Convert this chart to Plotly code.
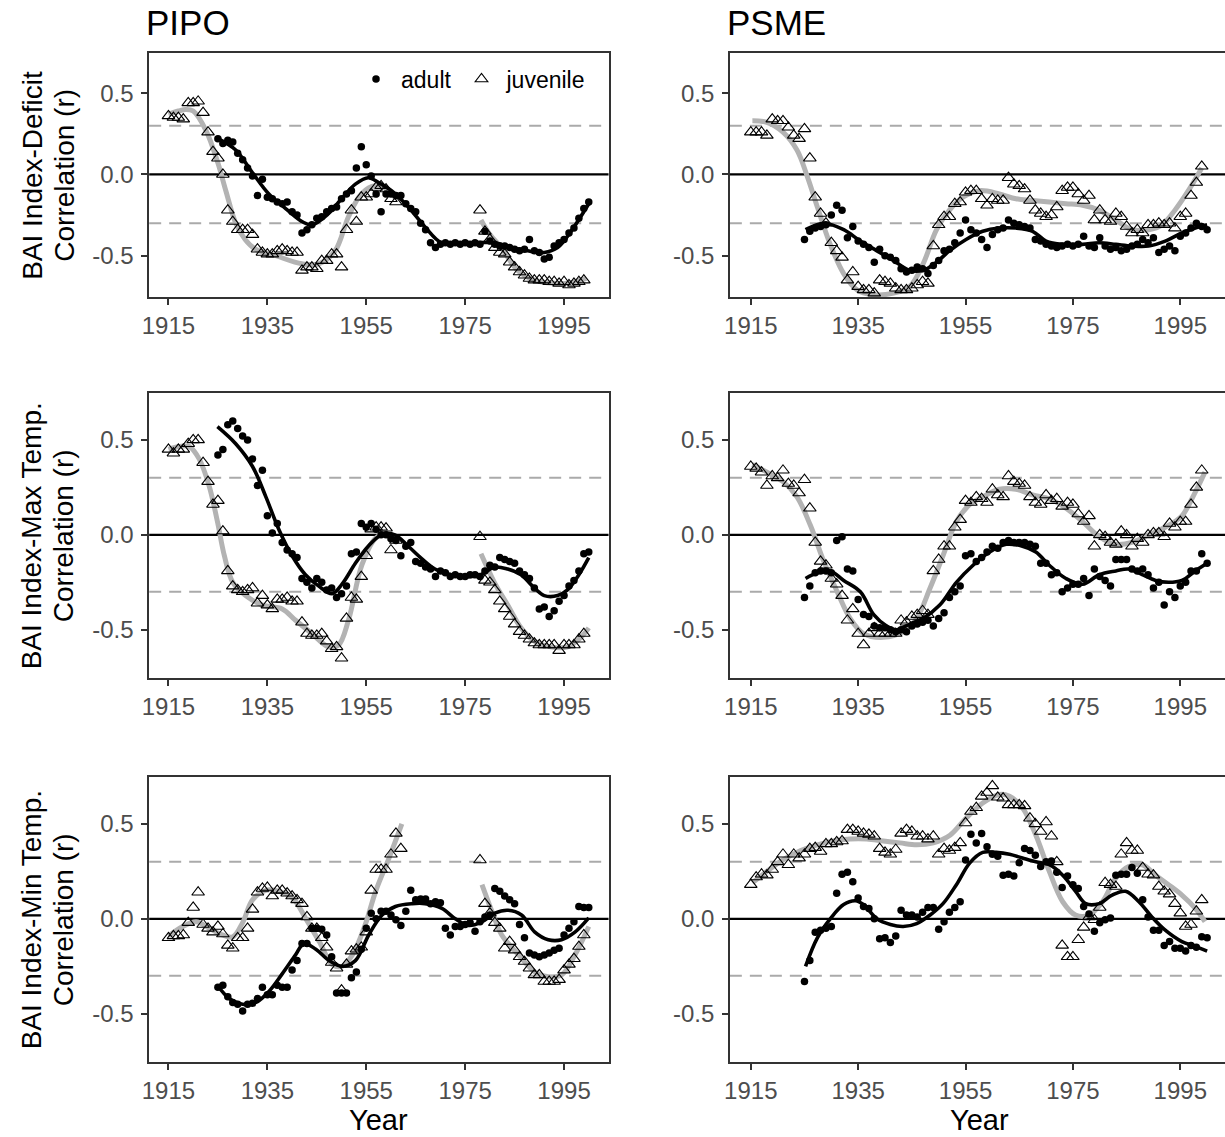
import plotly.graph_objects as go

# ---------------- data ----------------
years_juv = list(range(1915, 2001))
years_adult = list(range(1925, 2001))
x_ticks = [1915, 1935, 1955, 1975, 1995]
y_ticks = [0.5, 0.0, -0.5]
y_ticktext = ["0.5", "0.0", "-0.5"]
species = ["PIPO", "PSME"]
row_titles = [("BAI Index-Deficit", "Correlation (r)"),
              ("BAI Index-Max Temp.", "Correlation (r)"),
              ("BAI Index-Min Temp.", "Correlation (r)")]
N = None

# PIPO - Deficit
pipo_def_juv = [0.36, 0.35, 0.35, 0.34, 0.44, 0.44, 0.45, 0.38, 0.26, 0.14,
                0.10, 0.00, -0.22, -0.29, -0.34, -0.34, -0.34, -0.37, -0.46, -0.48,
                -0.49, -0.49, -0.47, -0.46, -0.47, -0.48, -0.48, -0.59, -0.57, -0.57,
                -0.58, -0.53, -0.53, -0.49, -0.49, -0.57, -0.34, -0.22, -0.29, -0.14,
                -0.14, -0.12, -0.08, -0.07, -0.09, -0.15, -0.17, N, N, N,
                N, N, N, N, N, N, N, N, N, N,
                N, N, N, -0.22, -0.35, -0.40, -0.45, -0.48, -0.49, -0.54,
                -0.57, -0.60, -0.62, -0.64, -0.65, -0.65, -0.65, -0.66, -0.66, -0.67,
                -0.66, -0.68, -0.67, -0.66, -0.65, N]
pipo_def_adult = [0.22, 0.19, 0.21, 0.20, 0.13, 0.09, 0.04, -0.01, -0.13, -0.03,
                  -0.14, -0.15, -0.17, -0.18, -0.17, -0.23, -0.25, -0.36, -0.34, -0.31,
                  -0.27, -0.26, -0.23, -0.21, -0.20, -0.15, -0.12, -0.10, 0.04, 0.17,
                  0.06, -0.01, -0.12, -0.23, -0.12, -0.12, -0.13, -0.13, -0.18, -0.21,
                  -0.23, -0.30, -0.34, -0.42, -0.45, -0.43, -0.42, -0.43, -0.42, -0.43,
                  -0.42, -0.43, -0.42, -0.43, -0.35, -0.41, -0.43, -0.44, -0.44, -0.45,
                  -0.46, -0.47, -0.46, -0.40, -0.47, -0.48, -0.52, -0.51, -0.44, -0.42,
                  -0.40, -0.36, -0.33, -0.27, -0.21, -0.17]
pipo_def_juv_fit_x = [1915, 1917, 1918.5, 1920, 1922.6, 1925, 1926.6, 1928.6, 1930.5, 1932.6,
                      1936.7, 1942, 1945.4, 1948.7, 1951.4, 1954, 1956.8, 1959.5, 1961, N,
                      1978.2, 1980, 1982.3, 1985.6, 1989, 1993, 1995.7, 1999.5]
pipo_def_juv_fit_y = [0.37, 0.39, 0.40, 0.39, 0.27, 0.07, -0.10, -0.30, -0.40, -0.46,
                      -0.50, -0.55, -0.55, -0.47, -0.26, -0.12, -0.07, -0.10, -0.15, N,
                      -0.28, -0.37, -0.45, -0.59, -0.65, -0.67, -0.67, -0.64]
pipo_def_adult_fit_x = [1925, 1928.6, 1932, 1935.3, 1938.7, 1942, 1944, 1947.4, 1950, 1952.8,
                        1955.4, 1957.5, 1960.1, 1963.5, 1966.8, 1970.2, 1973.5, 1976.9, 1981,
                        1984.3, 1987.6, 1991, 1993.7, 1996.4, 2000]
pipo_def_adult_fit_y = [0.22, 0.15, 0.01, -0.12, -0.21, -0.29, -0.31, -0.24, -0.15, -0.06,
                        -0.02, -0.05, -0.10, -0.20, -0.32, -0.42, -0.42, -0.42, -0.42,
                        -0.45, -0.47, -0.48, -0.45, -0.35, -0.18]

# PSME - Deficit
psme_def_juv = [0.26, 0.26, 0.26, 0.24, 0.34, 0.33, 0.33, 0.29, 0.24, 0.22,
                0.28, 0.10, -0.14, -0.24, -0.30, -0.42, -0.47, -0.51, -0.65, -0.60,
                -0.69, -0.71, -0.71, -0.73, -0.65, -0.66, -0.67, -0.70, -0.71, -0.71,
                -0.70, -0.68, -0.66, -0.67, -0.44, -0.31, -0.26, -0.26, -0.18, -0.17,
                -0.11, -0.10, -0.10, -0.15, -0.19, -0.15, -0.16, -0.16, -0.02, -0.06,
                -0.07, -0.09, -0.16, -0.22, -0.24, -0.26, -0.25, -0.20, -0.10, -0.08,
                -0.08, -0.12, -0.16, -0.13, -0.28, -0.22, -0.28, -0.29, -0.24, -0.26,
                -0.32, -0.36, -0.34, -0.36, -0.31, -0.31, -0.30, -0.31, -0.30, -0.33,
                -0.26, -0.24, -0.13, -0.05, 0.05, N]
psme_def_adult = [-0.40, -0.35, -0.33, -0.32, -0.31, -0.25, -0.19, -0.22, -0.39, -0.32,
                  -0.41, -0.43, -0.45, -0.54, -0.46, -0.50, -0.51, -0.53, -0.58, -0.60,
                  -0.59, -0.57, -0.58, -0.61, -0.56, -0.53, -0.47, -0.46, -0.42, -0.36,
                  -0.28, -0.34, -0.36, -0.40, -0.45, -0.37, -0.34, -0.33, -0.28, -0.30,
                  -0.31, -0.32, -0.33, -0.40, -0.41, -0.43, -0.44, -0.45, -0.44, -0.43,
                  -0.44, -0.43, -0.38, -0.44, -0.45, -0.39, -0.44, -0.46, -0.45, -0.47,
                  -0.46, -0.44, -0.43, -0.40, -0.42, -0.39, -0.48, -0.46, -0.44, -0.47,
                  -0.38, -0.36, -0.33, -0.30, -0.32, -0.34]
psme_def_juv_fit_x = [1915.3, 1918, 1921, 1923.6, 1925.5, 1927.4, 1929.8, 1932.3, 1934.8, 1937.9,
                      1941.6, 1944.6, 1947.1, 1949.6, 1952, 1954.5, 1957.6, 1961.3, 1964.4,
                      1967.5, 1970.6, 1973.7, 1976.8, 1979.9, 1983, 1986, 1989.1, 1991.6,
                      1994, 1996.5, 1999]
psme_def_juv_fit_y = [0.33, 0.32, 0.26, 0.15, -0.01, -0.20, -0.43, -0.61, -0.71, -0.74,
                      -0.73, -0.69, -0.55, -0.34, -0.22, -0.14, -0.10, -0.12, -0.15,
                      -0.16, -0.17, -0.18, -0.19, -0.22, -0.28, -0.34, -0.34, -0.31,
                      -0.22, -0.10, 0.04]
psme_def_adult_fit_x = [1925.2, 1928.6, 1932.3, 1935.4, 1938.5, 1941.6, 1944.6, 1947.1, 1949.6,
                        1952, 1955.1, 1958.2, 1961.3, 1964.4, 1967.5, 1970, 1973.1, 1976.8,
                        1979.9, 1983, 1986, 1989.1, 1992.2, 1995.3, 1997.8, 2000]
psme_def_adult_fit_y = [-0.34, -0.30, -0.34, -0.41, -0.47, -0.53, -0.59, -0.59, -0.54,
                        -0.47, -0.40, -0.35, -0.33, -0.33, -0.35, -0.41, -0.43, -0.43,
                        -0.42, -0.43, -0.44, -0.44, -0.41, -0.36, -0.33, -0.31]

# PIPO - Max Temp
pipo_max_juv = [0.45, 0.43, 0.45, 0.45, 0.48, 0.50, 0.50, 0.38, 0.28, 0.16,
                0.18, 0.02, -0.19, -0.27, -0.29, -0.30, -0.29, -0.28, -0.36, -0.32,
                -0.37, -0.39, -0.34, -0.34, -0.33, -0.35, -0.35, -0.46, -0.52, -0.53,
                -0.53, -0.52, -0.56, -0.60, -0.59, -0.65, -0.44, -0.33, -0.34, -0.22,
                -0.11, 0.03, 0.04, 0.04, 0.035, -0.08, -0.03, N, N, N,
                N, N, N, N, N, N, N, N, N, N,
                N, N, N, -0.01, -0.24, -0.25, -0.29, -0.35, -0.39, -0.43,
                -0.47, -0.51, -0.53, -0.55, -0.57, -0.58, -0.58, -0.58, -0.58, -0.61,
                -0.58, -0.58, -0.58, -0.55, -0.52, N]
pipo_max_adult = [0.42, 0.45, 0.58, 0.60, 0.56, 0.52, 0.50, 0.40, 0.26, 0.34,
                  0.10, 0.01, 0.06, -0.04, -0.08, -0.10, -0.12, -0.23, -0.25, -0.28,
                  -0.23, -0.25, -0.29, -0.28, -0.33, -0.31, -0.27, -0.10, -0.09, 0.06,
                  0.04, 0.06, 0.03, 0.00, 0.00, -0.02, -0.03, -0.11, -0.06, -0.04,
                  -0.14, -0.15, -0.17, -0.18, -0.22, -0.19, -0.20, -0.22, -0.21, -0.22,
                  -0.22, -0.21, -0.21, -0.22, -0.19, -0.16, -0.17, -0.12, -0.13, -0.14,
                  -0.15, -0.19, -0.21, -0.23, -0.28, -0.39, -0.38, -0.43, -0.40, -0.35,
                  -0.32, -0.27, -0.24, -0.19, -0.10, -0.09]
pipo_max_juv_fit_x = [1915, 1917.2, 1919.2, 1921.2, 1923.2, 1924.9, 1926.3, 1928, 1930.6, 1934,
                      1938, 1940.7, 1944, 1947.4, 1949.4, 1951.4, 1954.1, 1956.8, 1958.8, 1960.8, N,
                      1978.2, 1980.9, 1983.6, 1986.3, 1989, 1992.3, 1995.7, 1998.4, 2000]
pipo_max_juv_fit_y = [0.45, 0.465, 0.465, 0.40, 0.26, 0.07, -0.11, -0.25, -0.32, -0.37,
                      -0.39, -0.45, -0.52, -0.59, -0.58, -0.45, -0.16, -0.02, 0.005, -0.02, N,
                      -0.10, -0.25, -0.37, -0.49, -0.56, -0.59, -0.59, -0.54, -0.49]
pipo_max_adult_fit_x = [1924.9, 1928.6, 1932, 1934.7, 1937.3, 1940, 1942.7, 1945.4, 1948.1,
                        1950.1, 1952.8, 1955.4, 1958.1, 1960.8, 1963.5, 1966.2, 1968.9, 1972.2,
                        1975.6, 1978.2, 1980.9, 1983.6, 1986.3, 1989, 1991, 1993.7, 1995.7,
                        1998, 2000]
pipo_max_adult_fit_y = [0.57, 0.48, 0.36, 0.20, 0.03, -0.11, -0.21, -0.27, -0.31,
                        -0.26, -0.15, -0.06, 0.00, 0.00, -0.06, -0.125, -0.18, -0.21,
                        -0.22, -0.21, -0.17, -0.18, -0.21, -0.28, -0.32, -0.32, -0.29,
                        -0.21, -0.12]

# PSME - Max Temp
psme_max_juv = [0.36, 0.35, 0.33, 0.26, 0.31, 0.30, 0.34, 0.27, 0.26, 0.22,
                0.29, 0.14, -0.04, -0.14, -0.16, -0.23, -0.26, -0.32, -0.45, -0.39,
                -0.52, -0.58, -0.52, -0.49, -0.52, -0.52, -0.52, -0.52, -0.45, -0.46,
                -0.43, -0.42, -0.40, -0.42, -0.19, -0.13, -0.06, -0.06, 0.04, 0.08,
                0.18, 0.17, 0.20, 0.19, 0.17, 0.24, 0.21, 0.20, 0.31, 0.28,
                0.27, 0.26, 0.20, 0.17, 0.16, 0.21, 0.18, 0.19, 0.15, 0.17,
                0.16, 0.11, 0.07, 0.10, -0.06, 0.00, -0.01, -0.04, -0.05, 0.02,
                0.00, -0.06, -0.02, -0.04, 0.00, 0.01, 0.01, -0.01, 0.06, 0.04,
                0.07, 0.07, 0.16, 0.25, 0.34, N]
psme_max_adult = [-0.33, -0.27, -0.20, -0.19, -0.19, -0.20, -0.03, -0.01, -0.18, -0.19,
                  -0.34, -0.42, -0.43, -0.48, -0.49, -0.49, -0.50, -0.51, -0.50, -0.51,
                  -0.48, -0.47, -0.46, -0.45, -0.48, -0.44, -0.41, -0.33, -0.30, -0.27,
                  -0.11, -0.10, -0.14, -0.12, -0.09, -0.06, -0.07, -0.04, -0.03, -0.04,
                  -0.04, -0.04, -0.05, -0.06, -0.15, -0.15, -0.21, -0.20, -0.30, -0.28,
                  -0.26, -0.26, -0.23, -0.32, -0.18, -0.22, -0.24, -0.27, -0.13, -0.13,
                  -0.13, -0.18, -0.19, -0.18, -0.21, -0.28, -0.25, -0.37, -0.30, -0.33,
                  -0.27, -0.25, -0.19, -0.19, -0.10, -0.15]
psme_max_juv_fit_x = [1915.3, 1918, 1921, 1923.6, 1926.1, 1928.6, 1931.1, 1933.5, 1936, 1939.7,
                      1943.4, 1945.9, 1948.4, 1950.8, 1953.3, 1955.8, 1958.2, 1961.3, 1964.4,
                      1967.5, 1970.6, 1973.7, 1976.8, 1979.9, 1983, 1986, 1989.1, 1992.2,
                      1995.3, 1997.7, 1999.6]
psme_max_juv_fit_y = [0.37, 0.33, 0.28, 0.20, 0.05, -0.14, -0.30, -0.44, -0.52, -0.54,
                      -0.51, -0.44, -0.28, -0.11, 0.07, 0.16, 0.20, 0.24, 0.24,
                      0.21, 0.19, 0.14, 0.07, -0.01, -0.05, -0.04, 0.00, 0.04,
                      0.10, 0.22, 0.33]
psme_max_adult_fit_x = [1925.2, 1927.4, 1929.8, 1932.3, 1935.4, 1937.9, 1940.3, 1942.2, 1944.6,
                        1947.1, 1950.2, 1953.3, 1956.4, 1959.5, 1962.6, 1965.6, 1968.1, 1970.6,
                        1973.7, 1976.8, 1979.9, 1983, 1985.4, 1987.9, 1990.4, 1992.8, 1995.3,
                        1997.8, 2000]
psme_max_adult_fit_y = [-0.23, -0.20, -0.19, -0.24, -0.30, -0.42, -0.48, -0.50, -0.47,
                        -0.44, -0.37, -0.25, -0.16, -0.09, -0.05, -0.06, -0.09, -0.16,
                        -0.23, -0.26, -0.21, -0.19, -0.18, -0.21, -0.24, -0.25, -0.24,
                        -0.19, -0.15]

# PIPO - Min Temp
pipo_min_juv = [-0.10, -0.09, -0.09, -0.085, -0.02, 0.06, 0.14, -0.03, -0.05, -0.07,
                -0.04, -0.08, -0.14, -0.155, -0.10, -0.10, -0.05, 0.05, 0.14, 0.16,
                0.165, 0.12, 0.15, 0.15, 0.135, 0.12, 0.10, 0.08, 0.01, -0.05,
                -0.05, -0.10, -0.15, -0.23, -0.26, -0.375, -0.24, -0.17, -0.16, -0.15,
                -0.07, 0.15, 0.26, 0.26, 0.26, 0.34, 0.45, 0.37, N, N,
                N, N, N, N, N, N, N, N, N, N,
                N, N, N, 0.31, 0.08, 0.03, -0.02, -0.05, -0.155, -0.12,
                -0.165, -0.20, -0.225, -0.26, -0.295, -0.295, -0.33, -0.33, -0.33, -0.32,
                -0.27, -0.24, -0.21, -0.146, -0.085, N]
pipo_min_adult = [-0.36, -0.35, -0.41, -0.44, -0.45, -0.485, -0.45, -0.445, -0.42, -0.36,
                  -0.40, -0.40, -0.35, -0.36, -0.36, -0.27, -0.22, -0.13, -0.13, -0.05,
                  -0.05, -0.055, -0.085, -0.20, -0.39, -0.39, -0.39, -0.31, -0.28, -0.16,
                  -0.05, 0.03, 0.00, 0.04, 0.04, 0.02, -0.005, -0.035, 0.04, 0.15,
                  0.10, 0.105, 0.105, 0.08, 0.09, 0.085, -0.05, -0.085, -0.04, -0.04,
                  -0.03, -0.02, -0.065, -0.015, 0.01, 0.02, 0.16, 0.145, 0.12, 0.10,
                  0.08, -0.03, -0.10, -0.18, -0.19, -0.20, -0.19, -0.18, -0.165, -0.155,
                  -0.085, -0.05, -0.015, 0.065, 0.06, 0.06]
pipo_min_juv_fit_x = [1915, 1917.9, 1920.6, 1923.3, 1925.9, 1928, 1930, 1932, 1934.7, 1937.4,
                      1940.1, 1942.8, 1945.5, 1948.1, 1950.1, 1952.2, 1954.8, 1956.9, 1959.6,
                      1962.2, N,
                      1978.4, 1980.4, 1982.4, 1985.8, 1989.1, 1991.8, 1994.5, 1997.2, 2000]
pipo_min_juv_fit_y = [-0.09, -0.04, -0.015, -0.05, -0.085, -0.095, -0.02, 0.10, 0.15, 0.145,
                      0.11, 0.0, -0.12, -0.24, -0.25, -0.19, -0.03, 0.145, 0.32,
                      0.50, N,
                      0.18, 0.04, -0.085, -0.19, -0.28, -0.305, -0.295, -0.19, -0.04]
pipo_min_adult_fit_x = [1924.9, 1927.3, 1930, 1932.7, 1935.4, 1938, 1940.7, 1942.4, 1944.8,
                        1947.5, 1950.1, 1952.8, 1955.5, 1958.2, 1960.9, 1964.3, 1966.9, 1970.3,
                        1973, 1975.7, 1978.4, 1981, 1983.7, 1986.4, 1989.1, 1991.8, 1994.5,
                        1997.2, 2000]
pipo_min_adult_fit_y = [-0.35, -0.42, -0.45, -0.44, -0.38, -0.29, -0.19, -0.13, -0.16,
                        -0.22, -0.25, -0.22, -0.085, 0.02, 0.065, 0.08, 0.08, 0.055,
                        0.0, -0.035, -0.015, 0.03, 0.045, 0.02, -0.07, -0.11, -0.11,
                        -0.07, 0.005]

# PSME - Min Temp
psme_min_juv = [0.18, 0.22, 0.235, 0.23, 0.26, 0.30, 0.34, 0.285, 0.34, 0.32,
                0.34, 0.37, 0.375, 0.355, 0.395, 0.395, 0.405, 0.41, 0.47, 0.47,
                0.46, 0.45, 0.445, 0.435, 0.37, 0.35, 0.34, 0.365, 0.45, 0.47,
                0.46, 0.435, 0.435, 0.42, 0.435, 0.34, 0.37, 0.36, 0.375, 0.40,
                0.505, 0.565, 0.585, 0.645, 0.665, 0.70, 0.64, 0.635, 0.60, 0.60,
                0.60, 0.595, 0.53, 0.50, 0.46, 0.51, 0.435, 0.30, -0.14, -0.20,
                -0.20, -0.11, -0.045, 0.01, -0.005, 0.06, 0.19, 0.18, 0.17, 0.34,
                0.40, 0.36, 0.36, 0.27, 0.235, 0.23, 0.17, 0.145, 0.13, 0.08,
                0.03, -0.04, -0.03, 0.04, 0.10, N]
psme_min_adult = [-0.33, -0.22, -0.07, -0.06, -0.05, -0.04, 0.135, 0.235, 0.245, 0.195,
                  0.11, 0.065, 0.055, 0.0, -0.105, -0.10, -0.125, -0.09, 0.045, 0.02,
                  0.02, 0.01, 0.035, 0.06, 0.06, -0.055, -0.015, 0.035, 0.06, 0.09,
                  0.31, 0.445, 0.40, 0.45, 0.38, 0.34, 0.33, 0.23, 0.235, 0.225,
                  0.295, 0.37, 0.36, 0.335, 0.275, 0.30, 0.305, 0.245, 0.165, 0.225,
                  0.18, 0.16, 0.065, 0.025, -0.065, -0.02, -0.005, 0.005, 0.23, 0.235,
                  0.235, 0.27, 0.24, 0.10, 0.01, -0.06, -0.06, -0.14, -0.12, -0.155,
                  -0.155, -0.17, -0.14, -0.15, -0.095, -0.10]
psme_min_juv_fit_x = [1915.3, 1918, 1921, 1924.3, 1927.4, 1930.4, 1933.5, 1936.6, 1939.7, 1942.8,
                      1945.9, 1949, 1952.1, 1955.1, 1958.2, 1961.3, 1963.2, 1965.6, 1968.1,
                      1970.6, 1973.1, 1975.5, 1978, 1980.5, 1983, 1985.4, 1987.9, 1990.4,
                      1992.8, 1995.3, 1997.8, 1999.6]
psme_min_juv_fit_y = [0.19, 0.25, 0.31, 0.36, 0.39, 0.41, 0.42, 0.42, 0.41, 0.40,
                      0.39, 0.40, 0.44, 0.53, 0.61, 0.655, 0.645, 0.585, 0.44,
                      0.25, 0.09, 0.02, 0.02, 0.09, 0.215, 0.275, 0.285, 0.23,
                      0.18, 0.125, 0.055, -0.015]
psme_min_adult_fit_x = [1925.2, 1927.4, 1929.8, 1932.3, 1934.5, 1936, 1938.5, 1941, 1943.4,
                        1945.9, 1948.4, 1950.8, 1953.3, 1955.8, 1958.2, 1960.7, 1963.2, 1965.6,
                        1968.1, 1970.6, 1973.1, 1975.5, 1977.4, 1979.9, 1982.3, 1984.8, 1987.3,
                        1989.7, 1992.2, 1995.3, 1997.8, 2000]
psme_min_adult_fit_y = [-0.25, -0.10, 0.0, 0.075, 0.095, 0.075, 0.0, -0.03, -0.04,
                        -0.025, 0.02, 0.08, 0.18, 0.295, 0.35, 0.35, 0.34, 0.32,
                        0.30, 0.285, 0.23, 0.145, 0.08, 0.08, 0.125, 0.145, 0.09,
                        0.01, -0.06, -0.12, -0.145, -0.17]

panels = [
    (pipo_def_juv, pipo_def_adult, pipo_def_juv_fit_x, pipo_def_juv_fit_y, pipo_def_adult_fit_x, pipo_def_adult_fit_y),
    (psme_def_juv, psme_def_adult, psme_def_juv_fit_x, psme_def_juv_fit_y, psme_def_adult_fit_x, psme_def_adult_fit_y),
    (pipo_max_juv, pipo_max_adult, pipo_max_juv_fit_x, pipo_max_juv_fit_y, pipo_max_adult_fit_x, pipo_max_adult_fit_y),
    (psme_max_juv, psme_max_adult, psme_max_juv_fit_x, psme_max_juv_fit_y, psme_max_adult_fit_x, psme_max_adult_fit_y),
    (pipo_min_juv, pipo_min_adult, pipo_min_juv_fit_x, pipo_min_juv_fit_y, pipo_min_adult_fit_x, pipo_min_adult_fit_y),
    (psme_min_juv, psme_min_adult, psme_min_juv_fit_x, psme_min_juv_fit_y, psme_min_adult_fit_x, psme_min_adult_fit_y),
]

# ---------------- layout ----------------
W, H = 1225, 1137
FONT = "Liberation Sans, Arial, sans-serif"
row_px = [(53, 297), (393, 678), (777, 1062)]
col_px = [(143, 605), (727, 1225)]
x_ranges = [[1911.1, 2004.0], [1911.1, 2003.33]]
y_range = [-0.754, 0.747]

fig = go.Figure()
layout = dict(width=W, height=H, margin=dict(l=0, r=0, t=0, b=0),
              paper_bgcolor="white", plot_bgcolor="white",
              font=dict(family=FONT, color="black"),
              showlegend=True,
              legend=dict(orientation="h", x=346 / W, xanchor="left", y=1 - 79 / H, yanchor="middle",
                          bgcolor="rgba(0,0,0,0)", font=dict(size=23, family=FONT, color="black"),
                          itemwidth=40, itemclick=False),
              shapes=[], annotations=[])

for i, (juv, adult, jfx, jfy, afx, afy) in enumerate(panels):
    r, c = divmod(i, 2)
    n = i + 1
    xs = "x" if n == 1 else f"x{n}"
    ys = "y" if n == 1 else f"y{n}"
    (top, bot) = row_px[r]
    (left, right) = col_px[c]
    layout[f"xaxis{n}" if n > 1 else "xaxis"] = dict(
        domain=[left / W, right / W], range=x_ranges[c], anchor=ys,
        showline=True, linecolor="#333333", linewidth=1.5, mirror=True,
        ticks="outside", ticklen=6, tickwidth=1.5, tickcolor="#333333",
        tickvals=x_ticks, tickfont=dict(size=24, color="#4D4D4D", family=FONT),
        showgrid=False, zeroline=False)
    layout[f"yaxis{n}" if n > 1 else "yaxis"] = dict(
        domain=[1 - bot / H, 1 - top / H], range=y_range, anchor=xs,
        showline=True, linecolor="#333333", linewidth=1.5, mirror=(c == 0),
        ticks="outside", ticklen=6, tickwidth=1.5, tickcolor="#333333",
        tickvals=y_ticks, ticktext=y_ticktext, ticklabelstandoff=3,
        tickfont=dict(size=24, color="#4D4D4D", family=FONT),
        showgrid=False, zeroline=False)
    # reference lines
    for yv, col, dash, w in [(0.3, "#AAAAAA", "12px,8px", 2), (-0.3, "#AAAAAA", "12px,8px", 2),
                             (0.0, "black", "solid", 2.2)]:
        layout["shapes"].append(dict(type="line", xref=f"{xs} domain", yref=ys, x0=0, x1=1,
                                     y0=yv, y1=yv, line=dict(color=col, width=w, dash=dash),
                                     layer="below"))
    # smooth lines
    fig.add_trace(go.Scatter(x=jfx, y=jfy, mode="lines", line=dict(color="#B3B3B3", width=5, shape="spline"),
                             connectgaps=False, showlegend=False, hoverinfo="skip", xaxis=xs, yaxis=ys))
    fig.add_trace(go.Scatter(x=afx, y=afy, mode="lines", line=dict(color="black", width=3.6, shape="spline"),
                             showlegend=False, hoverinfo="skip", xaxis=xs, yaxis=ys))
    # points
    fig.add_trace(go.Scatter(x=years_adult, y=adult, mode="markers", name="adult",
                             marker=dict(symbol="circle", size=7.5, color="black"),
                             showlegend=(i == 0), xaxis=xs, yaxis=ys))
    fig.add_trace(go.Scatter(x=years_juv, y=juv, mode="markers", name="juvenile",
                             marker=dict(symbol="triangle-up-open", size=11, color="black",
                                         line=dict(width=1.1, color="black")),
                             showlegend=(i == 0), xaxis=xs, yaxis=ys))

# titles
for c, sp in enumerate(species):
    layout["annotations"].append(dict(text=sp, x=(col_px[c][0] - 5) / W, y=1 - 23 / H, xref="paper", yref="paper",
                                      xanchor="left", yanchor="middle", showarrow=False,
                                      font=dict(size=35, family=FONT, color="black")))
    layout["annotations"].append(dict(text="Year", x=(col_px[c][0] + (462 if c == 0 else 502) / 2) / W,
                                      y=1 - 1120 / H, xref="paper", yref="paper",
                                      xanchor="center", yanchor="middle", showarrow=False,
                                      font=dict(size=29, family=FONT, color="black")))
for r, (t1, t2) in enumerate(row_titles):
    top, bot = row_px[r]
    for t, xp in [(t1, 25), (t2, 57)]:
        layout["annotations"].append(dict(text=t, x=xp / W, y=1 - (top + bot) / 2 / H, xref="paper", yref="paper",
                                          xanchor="center", yanchor="middle", showarrow=False, textangle=-90,
                                          font=dict(size=28, family=FONT, color="black")))

fig.update_layout(**layout)
fig.write_html("out.html")
